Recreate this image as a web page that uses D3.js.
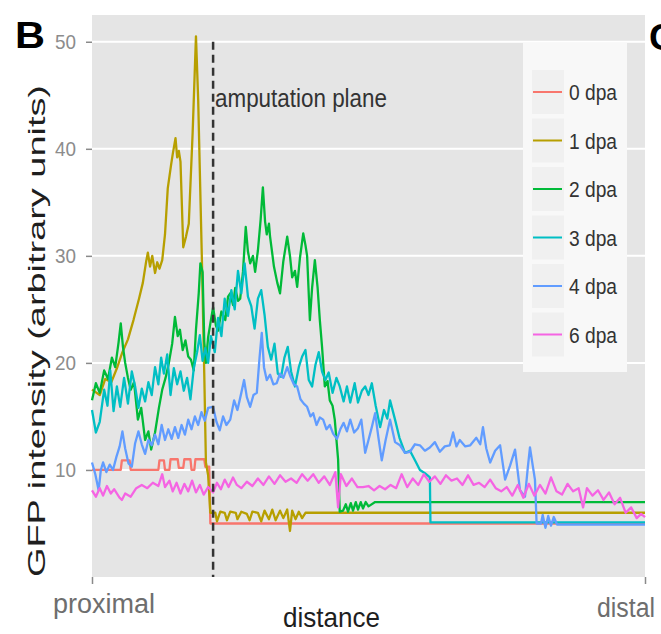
<!DOCTYPE html>
<html>
<head>
<meta charset="utf-8">
<script src="https://cdn.jsdelivr.net/npm/d3@7"></script>
<style>
  body { margin: 0; background: #fff; }
  svg { display: block; font-family: "Liberation Sans", Arial, sans-serif; }
</style>
</head>
<body>
<div id="chart"></div>
<script>
// Data (distance in % from proximal to distal, GFP intensity)
const categories = ["0 dpa", "1 dpa", "2 dpa", "3 dpa", "4 dpa", "6 dpa"];
const colors = ["#F8766D", "#B79F00", "#00BA38", "#00BFC4", "#619CFF", "#F564E3"];
const yTicks = [10, 20, 30, 40, 50];
const xTickLabels = ["proximal", "distal"];
const amputation = 21.9;

const dpa0 = [[0,10],[5.2,10],[5.4,10.9],[6.8,10.9],[7,10],[12,10],[12.2,10.9],[13,10.9],[13.2,10],[14,10],[14.2,11],[15.5,11],[15.7,10.2],[16.5,10.2],[16.7,11],[17.8,11],[18,10],[18.5,10],[18.7,11],[20.3,11],[20.5,10.3],[21.2,10.3],[21.4,5.0],[100,5.0]];

const dpa1 = [[0,17.5],[1.4,17],[2.4,18.5],[3.5,18.2],[4.5,19.5],[5.5,21],[6.5,22.2],[7.5,24],[8.5,26],[9.2,27.5],[9.8,29.5],[10.1,30.3],[10.5,29],[10.9,30],[11.4,28.4],[11.8,29.4],[12.2,28.8],[12.7,29.6],[13.2,32],[13.7,36.3],[14.3,38.5],[14.6,39.5],[15.1,41],[15.4,39.2],[15.7,39.8],[16.0,38.8],[16.5,30.8],[17.0,31.8],[17.5,33],[18.2,41.5],[18.8,50.5],[19.2,44.6],[19.9,29],[20.3,19],[20.6,10.7],[21.0,9.5],[21.4,6.0],[22.3,6.0],[22.6,5.2],[23.2,6.1],[24,6.0],[24.4,5.3],[25,6.1],[26,6.0],[26.3,5.4],[27,6.1],[28,5.9],[28.5,5.3],[29,6.1],[30,6.0],[30.6,5.2],[31.2,6.2],[32,5.4],[32.6,6.3],[33.2,5.3],[34,6.2],[34.6,5.5],[35.3,6.3],[35.8,4.3],[36.2,6.2],[36.8,5.4],[37.4,6.1],[38,5.5],[38.6,6.0],[100,6.0]];

const dpa2 = [[0,16.5],[0.7,18.1],[1.4,17.2],[2.2,19.3],[2.9,18.5],[3.6,20.5],[4.2,19.6],[4.8,21.9],[5.2,23.7],[5.6,21.5],[6.0,20.0],[6.5,18.6],[7.0,17.5],[7.6,18.2],[8.3,14.7],[8.9,15.8],[9.6,12.8],[10.2,13.6],[10.7,11.9],[11.4,13.5],[12.1,15.8],[12.7,17.5],[13.3,18.6],[13.9,20.0],[14.5,21.8],[15.0,24.3],[15.5,22.5],[15.9,23.1],[16.4,21.2],[16.9,22.1],[17.4,20.6],[17.9,20.3],[18.4,19.3],[18.8,23.1],[19.3,26.5],[19.6,29.3],[20.0,28.5],[20.3,22.0],[20.6,20.0],[21.0,22.4],[21.5,24.0],[21.9,25.2],[22.4,23.5],[22.8,23.0],[23.4,24.8],[24.1,24.0],[24.6,26.2],[25.0,26.5],[25.5,25.4],[25.9,27.0],[26.4,25.8],[26.8,26.0],[27.3,28.5],[27.8,32.7],[28.2,30.4],[28.6,29.3],[29.1,30.0],[29.5,28.5],[30.0,30.5],[30.5,33.4],[30.9,36.4],[31.3,33.2],[31.6,32.0],[32.0,33.0],[32.2,31.8],[32.6,30.2],[32.9,29.0],[33.5,27.5],[34.0,26.5],[34.6,29.5],[35.3,31.8],[35.8,30.0],[36.2,28.0],[36.7,28.6],[37.1,27.1],[37.6,29.8],[38.2,32.1],[38.6,31.0],[38.9,30.0],[39.4,24.0],[39.8,27.0],[40.3,29.6],[40.8,27.0],[41.2,24.0],[41.6,21.5],[42.1,17.8],[42.6,18.3],[43.0,16.5],[43.5,16.0],[43.9,14.7],[44.5,11.0],[44.8,6.1],[45.4,6.2],[45.9,6.8],[46.3,6.1],[46.8,6.9],[47.2,6.2],[47.7,7.0],[48.1,6.3],[48.6,7.0],[49.0,6.4],[49.5,7.0],[50.0,6.6],[51.2,7.0],[100,7.0]];

const dpa3 = [[0,15.6],[0.7,13.5],[1.4,14.5],[2.2,17.5],[2.8,16],[3.3,19.3],[3.9,15.5],[4.5,17.8],[5.1,15.9],[5.8,18.6],[6.5,16.2],[7.2,19.2],[7.8,17.8],[8.4,15.8],[9.0,17.6],[9.6,16.4],[10.2,18.2],[10.8,17.0],[11.4,19.6],[12.0,18.0],[12.5,20.5],[13.0,19.0],[13.6,20.8],[14.2,17.0],[14.8,19.5],[15.4,18.0],[16.0,19.2],[16.6,17.4],[17.2,18.6],[17.8,16.6],[18.4,19.5],[19.0,21.0],[19.5,22.6],[20.0,20.2],[20.5,21.4],[21.0,20.0],[21.5,22.5],[22.2,21.0],[22.8,24.2],[23.4,22.5],[24.0,26.0],[24.6,24.4],[25.2,26.8],[25.8,25.0],[26.4,28.6],[27.0,26.5],[27.6,29.3],[28.2,26.2],[28.8,25.3],[29.4,23.2],[30.0,26.0],[30.6,26.8],[31.2,24.5],[31.8,21.5],[32.4,20.3],[33.0,21.8],[33.6,19.0],[34.2,18.7],[34.8,20.5],[35.4,21.5],[36.0,19.2],[36.7,17.8],[37.4,19.6],[38.0,20.6],[38.6,21.2],[39.2,18.4],[39.8,17.8],[40.4,19.8],[41.0,21.0],[41.6,19.2],[42.2,18.4],[42.8,19.1],[43.5,17.2],[44.2,18.6],[44.8,17.8],[45.5,16.4],[46.1,17.8],[46.7,16.3],[47.5,18.1],[48.1,16.3],[48.8,17.4],[49.4,17.8],[50.0,17.0],[50.6,18.1],[51.3,16.0],[52.1,14.0],[52.8,15.6],[53.4,14.8],[53.9,16.5],[54.8,14.7],[55.6,13.0],[56.6,11.6],[57.5,11.8],[58.4,10.9],[59.3,10.0],[60.2,9.7],[61.1,9.3],[61.2,5.1],[100,5.1]];

const dpa4 = [[0,10.7],[0.6,9.6],[1.2,8.1],[1.6,10.0],[2.0,10.7],[2.6,9.8],[3.2,10.5],[3.8,10.0],[4.4,11.2],[5.0,12.2],[5.5,13.6],[6.0,12.0],[6.6,10.6],[7.2,10.3],[7.8,12.5],[8.4,13.6],[9.0,12.4],[9.6,11.5],[10.2,12.8],[10.8,12.3],[11.4,13.3],[12.0,12.4],[12.6,14.2],[13.2,12.8],[13.8,13.8],[14.4,12.9],[15.0,14.0],[15.6,13.0],[16.2,14.2],[16.8,13.3],[17.4,14.7],[18.0,13.8],[18.6,15.0],[19.2,14.2],[19.8,15.4],[20.4,14.6],[21.0,15.8],[21.9,15.9],[22.5,14.5],[23.1,13.7],[23.7,15.0],[24.3,14.2],[25.0,14.7],[25.7,16.5],[26.3,15.6],[27.0,17.2],[27.5,18.4],[28.0,16.8],[28.6,15.9],[29.2,17.0],[29.8,17.2],[30.3,20.5],[30.7,22.8],[31.1,19.6],[31.6,18.4],[32.2,18.9],[32.8,18.0],[33.4,18.1],[34.0,19.0],[34.6,18.6],[35.3,19.6],[35.9,18.7],[36.5,18.0],[37.1,17.8],[37.7,16.6],[38.3,16.2],[38.9,15.9],[39.5,15.0],[40.0,15.3],[40.6,14.2],[41.2,14.9],[41.8,14.7],[42.4,13.8],[43.0,14.2],[43.6,13.4],[44.3,12.9],[44.9,13.8],[45.5,14.4],[46.1,13.6],[46.7,14.7],[47.4,13.5],[48.1,13.9],[48.7,14.7],[49.4,11.6],[50.0,12.8],[50.6,14.0],[51.2,15.3],[51.8,13.0],[52.4,10.9],[53.1,12.8],[53.9,14.7],[54.8,12.6],[55.7,12.3],[56.6,11.6],[57.5,11.7],[58.4,12.4],[59.3,12.3],[60.2,11.8],[61.1,12.1],[62.0,12.6],[62.9,11.7],[63.8,12.2],[64.7,12.3],[65.3,13.5],[65.9,12.2],[66.5,12.8],[67.5,12.2],[68.4,12.3],[69.5,13.0],[70.2,12.4],[70.7,14.0],[71.3,12.0],[72.0,10.7],[72.9,11.8],[73.8,12.3],[74.7,9.1],[75.6,10.4],[76.5,11.9],[77.4,8.1],[78.3,7.5],[78.8,10.2],[79.2,12.1],[79.7,10.4],[80.1,9.1],[80.4,5.0],[81.2,5.0],[81.5,5.8],[82.0,4.6],[82.5,5.7],[83.0,4.8],[83.5,5.6],[84.1,4.9],[100,4.9]];

const dpa6 = [[0,8.1],[0.7,7.5],[1.4,8.3],[2,7.6],[2.7,8.5],[3.4,7.8],[4,8.2],[5,7.4],[5.4,7.2],[6,7.8],[7,7.5],[8,8.3],[9,8.6],[10,8.3],[11,8.8],[12,8.5],[12.7,9.6],[13.2,8.4],[14,9.0],[14.6,8],[15.3,8.8],[16,7.8],[16.7,8.7],[17.4,8.0],[18.1,9.0],[18.8,7.9],[19.5,8.6],[20.2,7.7],[21,8.4],[21.9,7.9],[22.6,8.8],[23.3,8.2],[24,9.1],[24.7,8.4],[25.5,9.3],[26.2,8.6],[27,8.3],[28,8.9],[29,8.5],[30,9.2],[31,8.6],[32,9.4],[33,8.7],[34,9.5],[35,8.9],[36,9.2],[37,8.8],[38,9.6],[39,9.0],[40,9.6],[41,8.8],[42,9.4],[43,8.6],[44,9.8],[44.5,6.5],[45,9.6],[46,8.5],[47,9.2],[48,8.4],[49,8.4],[50,8.5],[51,8.1],[52,8.5],[53,8.2],[54,8.6],[55,8.3],[56,9.6],[57,8.4],[58,9.2],[59,8.6],[60,9.6],[61,8.9],[62,9.4],[63,8.7],[64,9.5],[65,9.0],[66,9.2],[67,8.6],[68,9.5],[69,8.6],[70,8.8],[71,8.4],[72,9.1],[73,8.3],[74,8.0],[75,8.4],[76,7.6],[77,8.6],[78,7.4],[79,8.7],[80,7.6],[81,8.6],[82,7.8],[83,9.3],[84,8.0],[85,7.7],[86,8.7],[87,8.0],[88,8.3],[88.8,6.5],[89.5,8.3],[90.5,7.6],[91.5,8.1],[92.5,7.2],[93.5,7.9],[94.5,6.8],[95.5,7.4],[96.5,6.0],[97.5,6.5],[98.5,5.5],[99.3,5.9],[100,5.6]];

const seriesValues = [dpa0, dpa1, dpa2, dpa3, dpa4, dpa6];

function draw() {
    const xAccessor = (d) => d[0];
    const yAccessor = (d) => d[1];

    // Dimensions
    let dimensions = {
        width: 661,
        height: 634,
        margin: { top: 15, right: 16, bottom: 57, left: 92 },
    }
    dimensions.ctnrWidth = dimensions.width - dimensions.margin.left - dimensions.margin.right
    dimensions.ctnrHeight = dimensions.height - dimensions.margin.top - dimensions.margin.bottom

    const svg = d3.select("#chart")
        .append("svg")
        .attr("width", dimensions.width)
        .attr("height", dimensions.height)

    // text placed by left edge / baseline, stretched to the measured width
    const label = (parent, txt, x, y, size, len, fill, weight) => parent.append("text")
        .attr("x", x)
        .attr("y", y)
        .attr("font-size", size)
        .attr("font-weight", weight || "normal")
        .attr("fill", fill)
        .attr("textLength", len)
        .attr("lengthAdjust", "spacingAndGlyphs")
        .text(txt)

    const ctnr = svg.append("g")
        .attr("transform", `translate(${dimensions.margin.left}, ${dimensions.margin.top})`)

    const xScale = d3.scaleLinear()
        .domain([0, 100])
        .range([0, dimensions.ctnrWidth])

    const yScale = d3.scaleLinear()
        .domain([0, 52.5])
        .range([dimensions.ctnrHeight, 0])

    // Panel
    ctnr.append("rect")
        .attr("width", dimensions.ctnrWidth)
        .attr("height", dimensions.ctnrHeight)
        .attr("fill", "#e5e5e5")

    ctnr.selectAll(".grid")
        .data(yTicks)
        .join("line")
        .attr("class", "grid")
        .attr("x1", 0)
        .attr("x2", dimensions.ctnrWidth)
        .attr("y1", (d) => yScale(d))
        .attr("y2", (d) => yScale(d))
        .attr("stroke", "#fff")
        .attr("stroke-width", 2)

    // Y axis
    const yAxis = d3.axisLeft(yScale)
        .tickValues(yTicks)
        .tickSize(6)
        .tickFormat("")
    const yAxisGroup = ctnr.append("g").call(yAxis)
    yAxisGroup.select(".domain").remove()
    yAxisGroup.selectAll(".tick line").attr("stroke", "#8a8a8a").attr("stroke-width", 1.5)
    yTicks.forEach((t) => {
        label(ctnr, String(t), -37, yScale(t) + 7.5, 21, 21, "#8c8c8c")
    })

    // X axis
    const xAxis = d3.axisBottom(xScale)
        .tickValues([0, 100])
        .tickSize(7)
        .tickFormat("")
    const xAxisGroup = ctnr.append("g")
        .call(xAxis)
        .attr("transform", `translate(0, ${dimensions.ctnrHeight})`)
    xAxisGroup.select(".domain").remove()
    xAxisGroup.selectAll(".tick line").attr("stroke", "#8a8a8a").attr("stroke-width", 1.5)

    label(svg, xTickLabels[0], 53, 613, 27, 102, "#6e6e6e")
    label(svg, xTickLabels[1], 597, 617, 27, 58, "#6e6e6e")
    label(svg, "distance", 283, 627, 28, 97, "#1e1e1e")

    svg.append("text")
        .attr("transform", "translate(45, 577) rotate(-90)")
        .attr("font-size", 24)
        .attr("fill", "#1e1e1e")
        .attr("textLength", 492)
        .attr("lengthAdjust", "spacingAndGlyphs")
        .text("GFP intensity (arbitrary units)")

    // Lines
    const lineGenerator = d3.line()
        .x((d) => xScale(xAccessor(d)))
        .y((d) => yScale(yAccessor(d)))

    ctnr.selectAll(".series")
        .data(seriesValues)
        .join("path")
        .attr("class", "series")
        .attr("d", lineGenerator)
        .attr("fill", "none")
        .attr("stroke", (d, i) => colors[i])
        .attr("stroke-width", 2.3)
        .attr("stroke-linejoin", "round")

    // Amputation plane
    ctnr.append("line")
        .attr("x1", xScale(amputation))
        .attr("x2", xScale(amputation))
        .attr("y1", yScale(50))
        .attr("y2", yScale(0))
        .attr("stroke", "#333")
        .attr("stroke-width", 2.5)
        .attr("stroke-dasharray", "8,5")

    label(svg, "amputation plane", 215, 107, 25, 172, "#333")

    // Legend
    const legend = svg.append("g")
    legend.append("rect")
        .attr("x", 523)
        .attr("y", 43)
        .attr("width", 104)
        .attr("height", 329)
        .attr("fill", "#f8f8f8")

    const legendItems = legend.selectAll(".item")
        .data(categories)
        .join("g")
        .attr("class", "item")
        .attr("transform", (d, i) => `translate(0, ${92 + i * 48.5})`)

    legendItems.append("rect")
        .attr("x", 532)
        .attr("y", -22)
        .attr("width", 32)
        .attr("height", 44)
        .attr("fill", "#f0f0f0")

    legendItems.append("line")
        .attr("x1", 533)
        .attr("x2", 562)
        .attr("stroke", (d, i) => colors[i])
        .attr("stroke-width", 2)

    legendItems.each(function (d) {
        label(d3.select(this), d, 569, 8, 22, 48, "#333")
    })

    // Panel letters (the "C" of the next panel is cut by the right edge)
    label(svg, "B", 15, 48, 36, 30, "#000", "bold")
    label(svg, "C", 649, 50, 36, 27, "#000", "bold")
}

draw();
</script>
</body>
</html>
